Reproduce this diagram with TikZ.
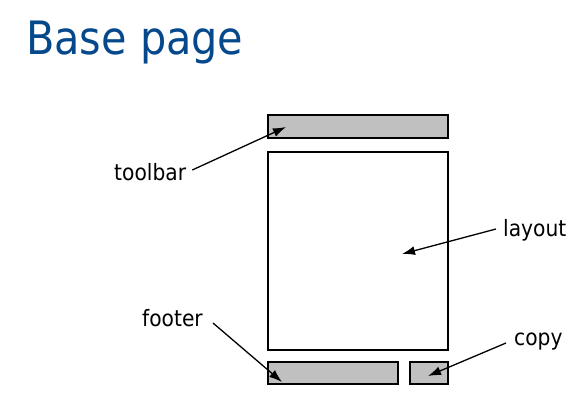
\documentclass[tikz,border=0pt]{standalone}
\usepackage{fontspec}
\setmainfont{DejaVu Sans Condensed}
\usetikzlibrary{positioning, arrows.meta}
\definecolor{titleblue}{RGB}{6,72,140}
\definecolor{boxgray}{RGB}{192,192,192}

\begin{document}
\begin{tikzpicture}[x=1pt, y=-1pt,
    part/.style={rectangle, draw, line width=1.6pt, inner sep=0pt},
    label/.style={anchor=base west, inner sep=0pt, font=\fontsize{22.5}{22.5}\selectfont},
    pointer/.style={-{Latex[length=13pt, width=9pt]}, line width=1.3pt}]

        \useasboundingbox (0,0) rectangle (583,404);

        % Title
        \node[anchor=base west, inner sep=0pt, text=titleblue, font=\fontsize{46}{46}\selectfont] (title) at (26,55) {Base page};

        % Nodes
        \node[part, fill=boxgray, minimum width=180pt, minimum height=23pt] (toolbarbox) at (358,126.5) {};
        \node[part, minimum width=180pt, minimum height=198pt] (layoutbox) at (358,251) {};
        \node[part, fill=boxgray, minimum width=130pt, minimum height=22pt] (footerbox) at (333,373) {};
        \node[part, fill=boxgray, minimum width=38pt, minimum height=22pt] (copybox) at (429,373) {};

        \node[label] (toolbar) at (114,180) {toolbar};
        \node[label] (layout) at (503,236) {layout};
        \node[label] (footer) at (142,326) {footer};
        \node[label] (copy) at (514,345) {copy};

        \coordinate (toolbartip) at (286,127);
        \coordinate (layouttip) at (402,254);
        \coordinate (footertip) at (282,382);
        \coordinate (copytip) at (428,376);

        % Edges
        \draw[pointer] (toolbar.base east) ++(6,-10) coordinate (toolbarstart) -- (toolbartip);
        \draw[pointer] (layout.base west) ++(-7,-7) coordinate (layoutstart) -- (layouttip);
        \draw[pointer] (footer.base east) ++(10,-3) coordinate (footerstart) -- (footertip);
        \draw[pointer] (copy.base west) ++(-8,-2) coordinate (copystart) -- (copytip);

    \end{tikzpicture}
\end{document}
